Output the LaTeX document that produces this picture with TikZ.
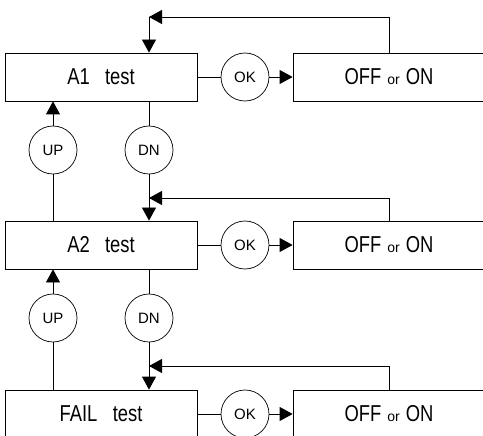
\documentclass[tikz,border=0pt]{standalone}
\usepackage{fontspec}
\setmainfont{Liberation Sans}
\newfontfamily\lcd[FakeStretch=0.8,WordSpace=3]{Liberation Sans}
\usetikzlibrary{arrows.meta}
\tikzset{
  lbox/.style={draw,line width=0.8pt,minimum width=192pt,minimum height=48pt,inner sep=0pt,font=\lcd\fontsize{23}{23}\selectfont},
  btn/.style={draw,circle,line width=0.7pt,minimum size=48pt,inner sep=0pt,font=\fontsize{15}{15}\selectfont},
  conn/.style={line width=0.8pt},
  arr/.style={conn,-{Triangle[length=13pt,width=14pt]}},
}
\newcommand{\offon}{\lcd\fontsize{23}{23}\selectfont OFF\hspace{6pt}{\rmfamily\fontsize{14}{14}\selectfont or}\hspace{6pt}ON}
\begin{document}
\begin{tikzpicture}[x=1pt,y=-1pt]
\useasboundingbox (0,0) rectangle (483,436);
\clip (0,0) rectangle (483,436);
% row 1
\node[lbox] (box1) at (101,77) {A1 test};
\node[btn]  (ok1)  at (245,77) {OK};
\node[lbox] (off1) at (389,77) {\offon};
\node[btn]  (up1)  at (53,150) {UP};
\node[btn]  (dn1)  at (149,150) {DN};
% row 2
\node[lbox] (box2) at (101,245) {A2 test};
\node[btn]  (ok2)  at (245,245) {OK};
\node[lbox] (off2) at (389,245) {\offon};
\node[btn]  (up2)  at (53,318) {UP};
\node[btn]  (dn2)  at (149,318) {DN};
% row 3
\node[lbox] (box3) at (101,414) {FAIL test};
\node[btn]  (ok3)  at (245,414) {OK};
\node[lbox] (off3) at (389,414) {\offon};
% feedback corners
\coordinate (fb1) at (149,17);
\coordinate (fb2) at (149,198);
\coordinate (fb3) at (149,366);
% row 1 connectors
\draw[conn] (box1.east) -- (ok1.west);
\draw[arr] (ok1.east) -- (off1.west);
\draw[arr] (off1.north) |- (fb1);
\draw[arr] (fb1) -- (fb1 |- box1.north);
\draw[arr] (up1.north) -- (up1 |- box1.south);
\draw[conn] (dn1.north) -- (dn1 |- box1.south);
% row 2 connectors
\draw[conn] (up1.south) -- (up1 |- box2.north);
\draw[arr] (dn1.south) -- (dn1 |- box2.north);
\draw[arr] (off2.north) |- (fb2);
\draw[conn] (box2.east) -- (ok2.west);
\draw[arr] (ok2.east) -- (off2.west);
\draw[arr] (up2.north) -- (up2 |- box2.south);
\draw[conn] (dn2.north) -- (dn2 |- box2.south);
% row 3 connectors
\draw[conn] (up2.south) -- (up2 |- box3.north);
\draw[arr] (dn2.south) -- (dn2 |- box3.north);
\draw[arr] (off3.north) |- (fb3);
\draw[conn] (box3.east) -- (ok3.west);
\draw[arr] (ok3.east) -- (off3.west);
\end{tikzpicture}
\end{document}
